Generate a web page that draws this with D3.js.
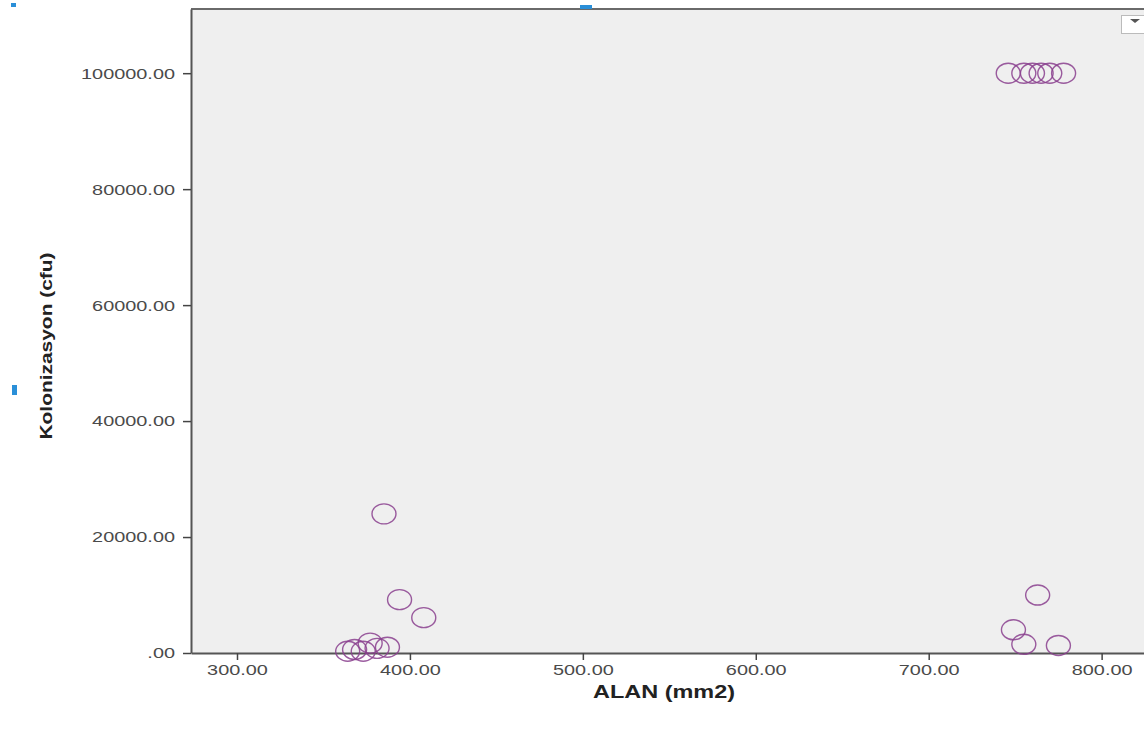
<!DOCTYPE html>
<html lang="tr">
  <head>
    <meta charset="utf-8" />
    <title>Kolonizasyon - ALAN</title>
    <script src="https://cdn.jsdelivr.net/npm/d3@7"></script>
    <style>
      body { margin: 0; background: #fff; }
      svg { display: block; font-family: "Liberation Sans", Arial, sans-serif; }
    </style>
  </head>
  <body>
    <div id="root"></div>

    <script type="text/javascript">
      // data: ALAN (mm2) and Kolonizasyon (cfu)
      const alan = [
        746, 755, 760, 765, 770, 778,
        763, 749, 755, 775,
        385, 394, 408,
        364, 368, 373, 377, 381, 387
      ];
      const kolonizasyon = [
        100000, 100000, 100000, 100000, 100000, 100000,
        10000, 4000, 1500, 1300,
        24000, 9200, 6100,
        300, 600, 300, 1700, 800, 1000
      ];
      const xTicks = [300, 400, 500, 600, 700, 800];
      const yTicks = [0, 20000, 40000, 60000, 80000, 100000];

      const points = alan.map((a, i) => ({ x: a, y: kolonizasyon[i] }));

      // chart dimensions
      const width = 1144;
      const height = 740;
      const marginTop = 9;
      const marginLeft = 191;
      const marginBottom = 87; // axis line at y = 653

      const xScale = d3.scaleLinear()
        .domain([273.4, 824.5])
        .range([marginLeft, width]);

      const yScale = d3.scaleLinear()
        .domain([0, 111070])
        .range([height - marginBottom, marginTop]);

      const svg = d3.select("#root").append("svg")
        .attr("width", width)
        .attr("height", height);

      // the screenshot is stretched sideways, so widen the text the same way
      function stretch(sel, factor) {
        sel.each(function () {
          const len = this.getComputedTextLength();
          d3.select(this)
            .attr("textLength", len * factor)
            .attr("lengthAdjust", "spacingAndGlyphs");
        });
      }

      // plot area background
      svg.append("rect")
        .attr("x", marginLeft)
        .attr("y", marginTop)
        .attr("width", width - marginLeft)
        .attr("height", height - marginBottom - marginTop)
        .attr("fill", "#efefef");

      // top frame line
      svg.append("line")
        .attr("x1", marginLeft).attr("x2", width)
        .attr("y1", marginTop).attr("y2", marginTop)
        .attr("stroke", "#6a6a6a").attr("stroke-width", 2);

      // x axis
      const xAxis = svg.append("g")
        .attr("transform", `translate(0,${height - marginBottom})`)
        .call(d3.axisBottom(xScale).tickValues(xTicks)
          .tickFormat(d3.format(".2f"))
          .tickSizeInner(7).tickSizeOuter(0).tickPadding(5));

      // y axis
      const yAxis = svg.append("g")
        .attr("transform", `translate(${marginLeft},0)`)
        .call(d3.axisLeft(yScale).tickValues(yTicks)
          .tickFormat(d => d === 0 ? ".00" : d3.format(".2f")(d))
          .tickSizeInner(8).tickSizeOuter(0).tickPadding(8));

      [xAxis, yAxis].forEach(ax => {
        ax.select(".domain").attr("stroke", "#555").attr("stroke-width", 2);
        ax.selectAll(".tick line").attr("stroke", "#444").attr("stroke-width", 1.5);
        ax.selectAll(".tick text")
          .attr("fill", "#4a4a4a")
          .attr("font-size", 14)
          .attr("font-family", "'Liberation Sans', Arial, sans-serif");
        stretch(ax.selectAll(".tick text"), 1.42);
      });
      yAxis.selectAll(".tick text").attr("dy", "0.35em");

      // points (open circles)
      svg.append("g")
        .selectAll("ellipse")
        .data(points)
        .join("ellipse")
        .attr("cx", d => xScale(d.x))
        .attr("cy", d => yScale(d.y))
        .attr("rx", 12)
        .attr("ry", 10)
        .attr("fill", "none")
        .attr("stroke", "#8a3f8e")
        .attr("stroke-opacity", 0.85)
        .attr("stroke-width", 1.4);

      // axis titles
      svg.append("text")
        .text("ALAN (mm2)")
        .attr("x", 664)
        .attr("y", 698)
        .attr("text-anchor", "middle")
        .attr("font-size", 18)
        .attr("font-weight", "bold")
        .attr("fill", "#222")
        .attr("textLength", 142)
        .attr("lengthAdjust", "spacingAndGlyphs");

      svg.append("text")
        .text("Kolonizasyon (cfu)")
        .attr("transform", "translate(52,346) rotate(-90)")
        .attr("text-anchor", "middle")
        .attr("font-size", 16)
        .attr("font-weight", "bold")
        .attr("fill", "#222")
        .attr("textLength", 187)
        .attr("lengthAdjust", "spacingAndGlyphs");

      // little dropdown box in the corner
      svg.append("rect")
        .attr("x", 1121.5).attr("y", 15.5)
        .attr("width", 24).attr("height", 18)
        .attr("fill", "#fff").attr("stroke", "#bbb");
      svg.append("path")
        .attr("d", "M1130,19 L1140,19 L1135,23 Z")
        .attr("fill", "#555");

      // selection handles left over in the screenshot
      svg.append("rect").attr("x", 11).attr("y", 3).attr("width", 5).attr("height", 4).attr("fill", "#2a8fd8");
      svg.append("rect").attr("x", 580).attr("y", 5).attr("width", 12).attr("height", 4).attr("fill", "#2a8fd8");
      svg.append("rect").attr("x", 12).attr("y", 385).attr("width", 5).attr("height", 10).attr("fill", "#2a8fd8");
    </script>
  </body>
</html>
